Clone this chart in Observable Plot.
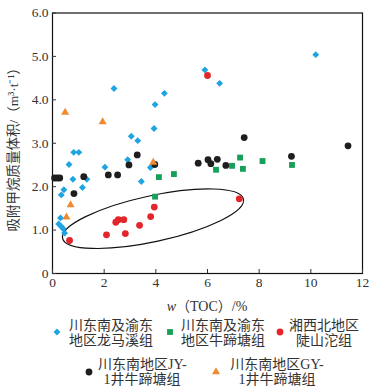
<!DOCTYPE html>
<html><head><meta charset="utf-8">
<script src="https://cdn.jsdelivr.net/npm/d3@7"></script>
<script src="https://cdn.jsdelivr.net/npm/@observablehq/plot@0.6"></script>
<style>
body{margin:0;background:#fff;}
#wrap{position:relative;width:373px;height:391px;font-family:"Liberation Serif","Noto Sans CJK SC",serif;color:#333;}
.lt{position:absolute;font-size:14px;line-height:15px;text-align:center;white-space:nowrap;font-family:"Liberation Serif","Noto Sans CJK SC",serif;}
.lm{position:absolute;}
</style></head><body><div id="wrap"></div>
<script>
// ---- data ----
const seriesNames = ["川东南及渝东\n地区龙马溪组","川东南及渝东\n地区牛蹄塘组","湘西北地区\n陡山沱组","川东南地区JY-\n1井牛蹄塘组","川东南地区GY-\n1井牛蹄塘组"];
const longmaxiX = [0.24,0.31,0.34,0.41,0.47,0.34,0.44,0.64,0.79,0.82,1.02,1.16,1.33,2.03,2.38,2.91,3.05,3.30,3.44,3.79,3.93,3.97,4.33,5.90,6.47,10.19];
const longmaxiY = [1.14,1.28,1.08,1.03,0.93,1.81,1.93,2.51,2.17,2.79,2.79,1.98,2.17,2.45,4.26,2.62,3.16,3.06,2.12,2.44,3.34,3.89,4.15,4.69,4.38,5.04];
const niutitangX = [3.97,4.12,4.70,6.33,6.95,7.26,7.37,8.13,9.27];
const niutitangY = [1.77,2.22,2.29,2.39,2.48,2.67,2.41,2.59,2.50];
const doushantuoX = [0.66,2.09,2.45,2.55,2.76,2.82,3.37,3.80,3.94,6.00,7.23];
const doushantuoY = [0.76,0.89,1.18,1.24,1.24,0.92,1.11,1.31,1.53,4.56,1.72];
const jy1X = [0.08,0.18,0.28,0.83,1.21,2.16,2.52,2.96,3.28,3.96,5.64,6.02,6.13,6.38,6.71,7.42,9.25,11.44];
const jy1Y = [2.20,2.20,2.20,1.84,2.23,2.27,2.27,2.50,2.73,2.51,2.54,2.62,2.53,2.63,2.49,3.13,2.70,2.94];
const gy1X = [0.49,0.54,0.70,1.94,3.90];
const gy1Y = [3.71,1.30,1.58,3.49,2.56];
const xTicks = [0,2,4,6,8,10,12];
const yTicks = [0,1,2,3,4,5,6];
const xLabelParts = ["w", "（TOC）/%"];
const yLabel = "吸附甲烷质量体积/（m³·t⁻¹）";
// ellipse annotation: ends of the long axis in data units
const ellipseEnds = {x1: 0.41, y1: 0.80, x2: 7.41, y2: 1.70};

const colors = ["#1ea4e0","#16a05a","#e2262b","#1e1e1e","#f08a32"];
const symbols = ["diamond2","square","circle","circle","triangle"];
const sizes = [3.1,3.3,3.4,3.4,3.0];

const zip = (xs, ys) => xs.map((x, i) => ({x, y: ys[i]}));
const sets = [zip(longmaxiX,longmaxiY), zip(niutitangX,niutitangY), zip(doushantuoX,doushantuoY), zip(jy1X,jy1Y), zip(gy1X,gy1Y)];

const W = 373, H = 318;
const font = "Liberation Serif, Noto Sans CJK SC, serif";

const ellipseMark = (index, scales, values, dims) => {
  const {x, y} = scales;
  const ax = x(ellipseEnds.x1), ay = y(ellipseEnds.y1), bx = x(ellipseEnds.x2), by = y(ellipseEnds.y2);
  const cx = (ax+bx)/2, cy = (ay+by)/2, rx = Math.hypot(bx-ax, by-ay)/2;
  const ang = Math.atan2(by-ay, bx-ax)*180/Math.PI;
  return d3.create("svg:ellipse").attr("cx",cx).attr("cy",cy).attr("rx",rx).attr("ry",23)
    .attr("transform",`rotate(${ang},${cx},${cy})`).attr("fill","none").attr("stroke","#111").attr("stroke-width",1.2).node();
};
const xLabelMark = (index, scales, values, dims) => {
  const t = d3.create("svg:text")
    .attr("x", (dims.marginLeft + dims.width - dims.marginRight)/2)
    .attr("y", dims.height - dims.marginBottom + 38)
    .attr("text-anchor","middle").attr("font-size",14).attr("fill","#333").attr("font-family",font);
  t.append("tspan").attr("font-style","italic").text(xLabelParts[0]);
  t.append("tspan").text(xLabelParts[1]);
  return t.node();
};

const plot = Plot.plot({
  width: W, height: H,
  marginLeft: 52, marginRight: 11, marginTop: 12.5, marginBottom: H - 273,
  style: {fontFamily: font, fontSize: "13.5px", color: "#333", background: "#fff"},
  x: {domain: [0,12]},
  y: {domain: [0,6]},
  marks: [
    Plot.frame({stroke: "#111", strokeWidth: 1.2}),
    Plot.axisX({ticks: xTicks, tickSize: -4, tickPadding: 8, tickFormat: d => String(d), label: null, fontSize: 13.5}),
    Plot.axisY({ticks: yTicks, tickSize: -4, tickPadding: 8, tickFormat: d => d === 0 ? "0" : d.toFixed(1), label: null, fontSize: 13.5}),
    Plot.text([yLabel], {frameAnchor: "left", textAnchor: "middle", dx: -39, dy: 3, rotate: -90, text: d => d, fontSize: 13.5, fill: "#333"}),
    xLabelMark,
    ellipseMark,
    ...sets.map((s, i) => Plot.dot(s, {x: "x", y: "y", symbol: symbols[i], r: sizes[i], fill: colors[i], stroke: "none"}))
  ]
});

const wrap = document.getElementById("wrap");
wrap.appendChild(plot);

// ---- legend ----
const symbolTypes = {diamond2: d3.symbolDiamond2, square: d3.symbolSquare, circle: d3.symbolCircle, triangle: d3.symbolTriangle};
const legendItems = [
  {mx: 57, my: 332, tx: 69, ty: 318, tw: 84},
  {mx: 170, my: 332, tx: 181, ty: 318, tw: 84},
  {mx: 280, my: 332, tx: 289, ty: 318, tw: 70},
  {mx: 89, my: 372, tx: 98, ty: 357, tw: 88},
  {mx: 216, my: 372, tx: 228, ty: 357, tw: 98}
];
legendItems.forEach((it, i) => {
  const s = d3.create("svg").attr("class","lm").attr("width",16).attr("height",16)
    .style("left",(it.mx-8)+"px").style("top",(it.my-8)+"px");
  s.append("path").attr("transform","translate(8,8)")
    .attr("d", d3.symbol(symbolTypes[symbols[i]], sizes[i]*sizes[i]*Math.PI)())
    .attr("fill", colors[i]);
  wrap.appendChild(s.node());
  const d = document.createElement("div");
  d.className = "lt";
  d.style.left = it.tx + "px"; d.style.top = it.ty + "px"; d.style.width = it.tw + "px";
  d.innerHTML = seriesNames[i].split("\n").join("<br>");
  wrap.appendChild(d);
});
</script></body></html>
